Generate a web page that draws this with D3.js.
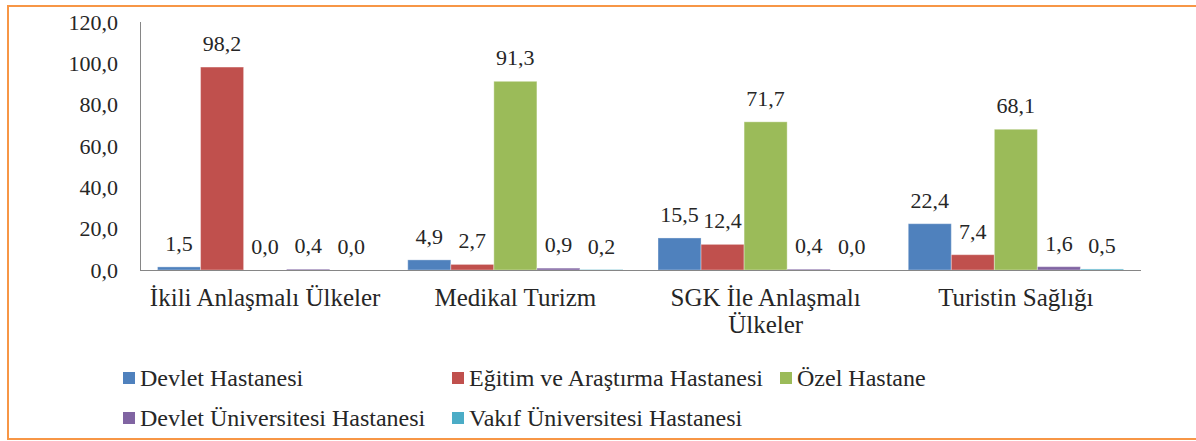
<!DOCTYPE html>
<html>
<head>
<meta charset="utf-8">
<script src="https://cdn.jsdelivr.net/npm/d3@7"></script>
<style>
  body { margin: 0; background: #fff; }
</style>
</head>
<body>
<div id="chart"></div>
<script>
const categories = ["İkili Anlaşmalı Ülkeler", "Medikal Turizm", "SGK İle Anlaşmalı\nÜlkeler", "Turistin Sağlığı"];
const seriesNames = ["Devlet Hastanesi", "Eğitim ve Araştırma Hastanesi", "Özel Hastane", "Devlet Üniversitesi Hastanesi", "Vakıf Üniversitesi Hastanesi"];
const seriesColors = ["#4F81BD", "#C0504D", "#9BBB59", "#8064A2", "#4BACC6"];
const devlet = [1.5, 4.9, 15.5, 22.4];
const egitim = [98.2, 2.7, 12.4, 7.4];
const ozel = [0.0, 91.3, 71.7, 68.1];
const devletUni = [0.4, 0.9, 0.4, 1.6];
const vakifUni = [0.0, 0.2, 0.0, 0.5];
const yTicks = [0, 20, 40, 60, 80, 100, 120];

const values = [devlet, egitim, ozel, devletUni, vakifUni];

const FONT = "'Liberation Serif', 'DejaVu Serif', serif";
const width = 1196, height = 441;
const svg = d3.select("#chart").append("svg")
    .attr("width", width)
    .attr("height", height)
    .style("font-family", FONT);

// frame
svg.append("rect")
    .attr("x", 8).attr("y", 6)
    .attr("width", 1196).attr("height", 433)
    .attr("fill", "none")
    .attr("stroke", "#F79646")
    .attr("stroke-width", 2);

const x0 = d3.scaleBand().domain(categories).range([140, 1141]).paddingInner(0.14).paddingOuter(0.07);
const x1 = d3.scaleBand().domain(seriesNames).range([0, x0.bandwidth()]);
const y = d3.scaleLinear().domain([0, 120]).range([270, 22]);

const fmt = v => d3.format(".1f")(v).replace(".", ",");

function txt(sel, size) {
    return sel.style("font-family", FONT).style("font-size", (size || 22) + "px").style("fill", "#262626");
}

// y axis labels
svg.append("g")
    .selectAll("text")
    .data(yTicks)
    .enter().append("text")
    .attr("x", 118)
    .attr("y", d => y(d))
    .attr("dy", "0.35em")
    .attr("text-anchor", "end")
    .call(txt, 22)
    .text(fmt);

// axis lines
svg.append("line")
    .attr("x1", 140.5).attr("x2", 140.5)
    .attr("y1", y(120)).attr("y2", y(0))
    .attr("stroke", "#868686");

// bars
const groups = svg.append("g")
    .selectAll("g")
    .data(categories)
    .enter().append("g")
    .attr("transform", d => `translate(${x0(d)},0)`);

groups.selectAll("rect")
    .data((d, i) => seriesNames.map((s, j) => ({ s, v: values[j][i], c: seriesColors[j] })))
    .enter().append("rect")
    .attr("x", d => x1(d.s))
    .attr("width", x1.bandwidth())
    .attr("y", d => y(d.v))
    .attr("height", d => y(0) - y(d.v))
    .attr("fill", d => d.c)
    .attr("stroke", "#ffffff")
    .attr("stroke-opacity", 0.35)
    .attr("stroke-width", 1);

groups.selectAll("text")
    .data((d, i) => seriesNames.map((s, j) => ({ s, v: values[j][i] })))
    .enter().append("text")
    .attr("x", d => x1(d.s) + x1.bandwidth() / 2)
    .attr("y", d => y(d.v) - 16)
    .attr("text-anchor", "middle")
    .call(txt, 22)
    .text(d => fmt(d.v));

svg.append("line")
    .attr("x1", 140).attr("x2", 1141)
    .attr("y1", y(0) + 0.5).attr("y2", y(0) + 0.5)
    .attr("stroke", "#868686");

// category labels
svg.append("g")
    .selectAll("text")
    .data(categories)
    .enter().append("text")
    .attr("x", d => x0(d) + x0.bandwidth() / 2)
    .attr("y", 306)
    .attr("text-anchor", "middle")
    .call(txt, 25)
    .each(function(d) {
        const lines = d.split("\n");
        lines.forEach((l, i) => {
            d3.select(this).append("tspan")
                .attr("x", x0(d) + x0.bandwidth() / 2)
                .attr("dy", i === 0 ? 0 : 27)
                .text(l);
        });
    });

// legend
const legendPos = [[123, 386], [452, 386], [780, 386], [123, 426], [452, 426]];
const legend = svg.append("g")
    .selectAll("g")
    .data(seriesNames)
    .enter().append("g")
    .attr("transform", (d, i) => `translate(${legendPos[i][0]},${legendPos[i][1]})`);

legend.append("rect")
    .attr("x", 0).attr("y", -14)
    .attr("width", 12).attr("height", 12)
    .attr("fill", (d, i) => seriesColors[i]);

legend.append("text")
    .attr("x", 17)
    .attr("y", 0)
    .call(txt, 24)
    .text(d => d);
</script>
</body>
</html>
